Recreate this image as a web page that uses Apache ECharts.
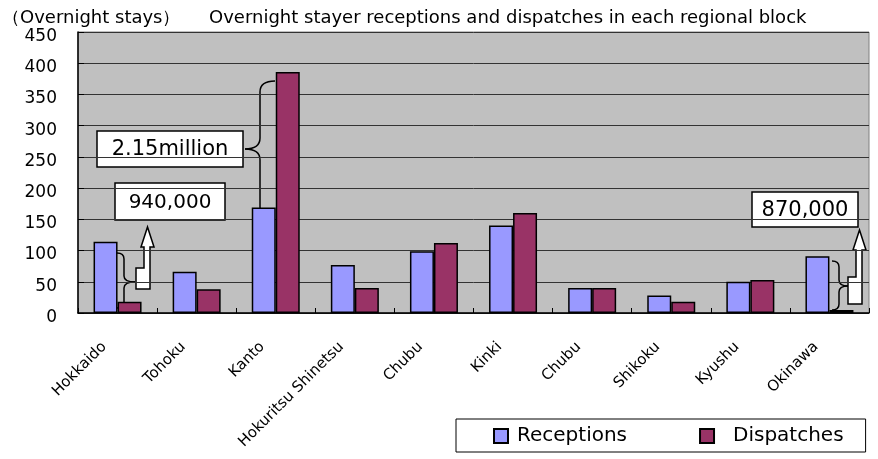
<!DOCTYPE html>
<html>
<head>
<meta charset="utf-8">
<script src="https://cdn.jsdelivr.net/npm/echarts@6/dist/echarts.min.js"></script>
<style>
  html, body { margin: 0; padding: 0; background: #fff; }
  #chart { width: 878px; height: 459px; }
</style>
</head>
<body>
<div id="chart"></div>
<script>
var regions = ['Hokkaido', 'Tohoku', 'Kanto', 'Hokuritsu Shinetsu', 'Chubu', 'Kinki', 'Chubu', 'Shikoku', 'Kyushu', 'Okinawa'];
var receptions = [114, 66, 169, 77, 99, 140, 40, 28, 50, 91];
var dispatches = [18, 38, 386, 40, 112, 160, 40, 18, 53, 5];
var yTicks = [0, 50, 100, 150, 200, 250, 300, 350, 400, 450];

var font = '"DejaVu Sans", "Liberation Sans", sans-serif';

// curly brace made of curves and lines; xe = ends, xs = spine, xc = cusp
function brace(xe, xs, xc, yTop, yMid, yBot, r) {
  var st = {stroke: '#000', lineWidth: 1.5, fill: null};
  return [
    {type: 'bezierCurve', shape: {x1: xe, y1: yTop, cpx1: xs, cpy1: yTop, x2: xs, y2: yTop + r}, style: st},
    {type: 'line', shape: {x1: xs, y1: yTop + r, x2: xs, y2: yMid - r}, style: st},
    {type: 'bezierCurve', shape: {x1: xs, y1: yMid - r, cpx1: xs, cpy1: yMid, x2: xc, y2: yMid}, style: st},
    {type: 'bezierCurve', shape: {x1: xc, y1: yMid, cpx1: xs, cpy1: yMid, x2: xs, y2: yMid + r}, style: st},
    {type: 'line', shape: {x1: xs, y1: yMid + r, x2: xs, y2: yBot - r}, style: st},
    {type: 'bezierCurve', shape: {x1: xs, y1: yBot - r, cpx1: xs, cpy1: yBot, x2: xe, y2: yBot}, style: st}
  ];
}

function textBox(x, y, w, h, txt, size) {
  return [
    {type: 'rect', shape: {x: x, y: y, width: w, height: h}, style: {fill: '#fff', stroke: '#000', lineWidth: 1.5}},
    {type: 'text', x: x + w / 2, y: y + h / 2 + 1, style: {text: txt, font: size + 'px ' + font, fill: '#000', align: 'center', verticalAlign: 'middle'}}
  ];
}

// bent block arrow: base box then narrow shaft going up to a head
function bentArrow(bx0, bx1, byTop, byBot, sx0, headY, hx0, hx1, tipY) {
  var tipX = (hx0 + hx1) / 2;
  return {
    type: 'polygon',
    shape: {points: [[bx0, byBot], [bx1, byBot], [bx1, headY], [hx1, headY], [tipX, tipY], [hx0, headY], [sx0, headY], [sx0, byTop], [bx0, byTop]]},
    style: {fill: '#fff', stroke: '#000', lineWidth: 1.5}
  };
}

var chart = echarts.init(document.getElementById('chart'));

var graphics = []
  .concat(brace(275, 260, 245, 81, 149, 218, 11))
  .concat(textBox(97, 131, 146, 36, '2.15million', 21))
  .concat(brace(117, 124, 135, 253, 282, 308, 6))
  .concat(textBox(115, 183, 110, 37, '940,000', 20))
  .concat([bentArrow(136, 150, 268, 289, 144, 247, 141, 154, 227)])
  .concat(brace(832, 839, 848, 261, 286, 310, 6))
  .concat(textBox(752, 192, 106, 35, '870,000', 21))
  .concat([bentArrow(848, 862, 277, 304, 856, 250, 853, 866, 230)]);

chart.setOption({
  animation: false,
  title: [
    {text: '（Overnight stays）', left: -3, top: 4, textStyle: {fontSize: 18, fontWeight: 'normal', color: '#000', fontFamily: font}},
    {text: 'Overnight stayer receptions and dispatches in each regional block', left: 204, top: 4, textStyle: {fontSize: 18, fontWeight: 'normal', color: '#000', fontFamily: font}}
  ],
  grid: {left: 78, right: 9, top: 32, bottom: 146, show: true, backgroundColor: '#c0c0c0', borderColor: '#808080', borderWidth: 1},
  legend: {
    data: [
      {name: 'Receptions'},
      {name: 'Dispatches', textStyle: {padding: [0, 0, 0, 14]}}
    ],
    left: 456,
    top: 419,
    padding: [7, 22, 6, 37],
    itemGap: 72,
    itemWidth: 14,
    itemHeight: 14,
    icon: 'rect',
    backgroundColor: '#fff',
    borderColor: '#000',
    borderWidth: 1,
    textStyle: {fontSize: 20, color: '#000', fontFamily: font, padding: [0, 0, 0, 4]}
  },
  xAxis: {
    type: 'category',
    data: regions,
    axisLine: {lineStyle: {color: '#000', width: 1.5}},
    axisTick: {show: true, inside: true, length: 5, lineStyle: {color: '#000'}},
    axisLabel: {rotate: 45, fontSize: 15, color: '#000', fontFamily: font, margin: 18, interval: 0, padding: [0, 19, 0, 0]}
  },
  yAxis: {
    type: 'value',
    min: 0,
    max: 450,
    interval: 50,
    axisLine: {show: true, lineStyle: {color: '#000', width: 1.5}},
    axisTick: {show: true, inside: true, length: 6, lineStyle: {color: '#000'}},
    splitLine: {lineStyle: {color: '#333', width: 1}},
    axisLabel: {fontSize: 17, color: '#000', fontFamily: font, margin: 21, verticalAlign: 'top', lineHeight: 9,
      formatter: function(v) { return yTicks.indexOf(v) >= 0 ? String(v) : ''; }}
  },
  series: [
    {
      name: 'Receptions',
      type: 'bar',
      data: receptions,
      barWidth: 24,
      barGap: '0%',
      itemStyle: {color: '#9999ff', borderColor: '#000', borderWidth: 1.5}
    },
    {
      name: 'Dispatches',
      type: 'bar',
      data: dispatches,
      barWidth: 24,
      itemStyle: {color: '#993366', borderColor: '#000', borderWidth: 1.5}
    }
  ],
  graphic: graphics
});
</script>
</body>
</html>
